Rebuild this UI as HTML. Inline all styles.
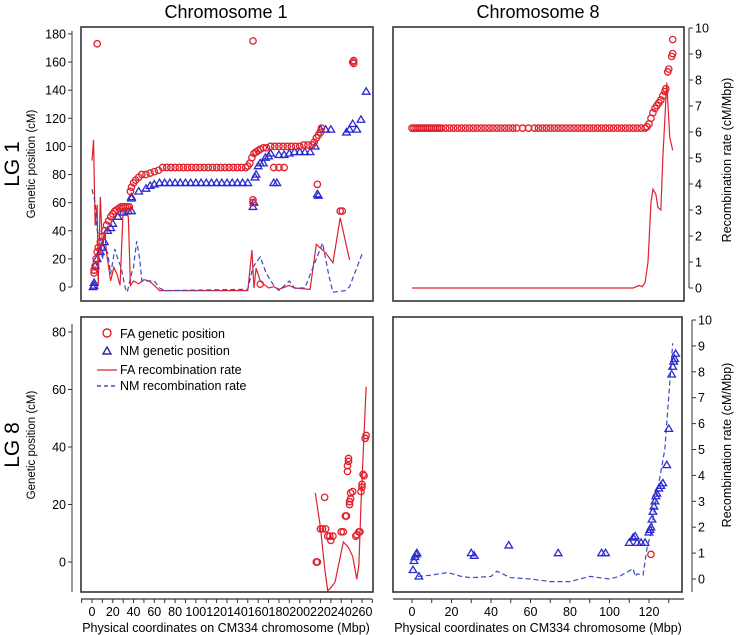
<!DOCTYPE html>
<html><head><meta charset="utf-8">
<style>
html,body{margin:0;padding:0;background:#fff;}
svg{display:block;font-family:"Liberation Sans",Arial,sans-serif;}
</style></head>
<body>
<svg id="fig" width="737" height="635" viewBox="0 0 737 635" xmlns="http://www.w3.org/2000/svg">
<defs>
<clipPath id="cTL"><rect x="81" y="27" width="292" height="274"/></clipPath>
<clipPath id="cTR"><rect x="393" y="27" width="291" height="274"/></clipPath>
<clipPath id="cBL"><rect x="81" y="317" width="292" height="275"/></clipPath>
<clipPath id="cBR"><rect x="393" y="317" width="289" height="275"/></clipPath>
</defs>
<text x="226" y="18" font-size="18" text-anchor="middle">Chromosome 1</text>
<text x="538" y="18" font-size="18" text-anchor="middle">Chromosome 8</text>
<text transform="translate(19,164) rotate(-90)" font-size="21" text-anchor="middle">LG 1</text>
<text transform="translate(19,445) rotate(-90)" font-size="21" text-anchor="middle">LG 8</text>
<text transform="translate(35,164) rotate(-90)" font-size="11.5" text-anchor="middle">Genetic position (cM)</text>
<text transform="translate(35,445) rotate(-90)" font-size="11.5" text-anchor="middle">Genetic position (cM)</text>
<text transform="translate(731,160) rotate(-90)" font-size="12.5" text-anchor="middle">Recombination rate (cM/Mbp)</text>
<text transform="translate(731,445) rotate(-90)" font-size="12.5" text-anchor="middle">Recombination rate (cM/Mbp)</text>
<text x="226" y="632" font-size="12.5" text-anchor="middle">Physical coordinates on CM334 chromosome (Mbp)</text>
<text x="538" y="632" font-size="12.5" text-anchor="middle">Physical coordinates on CM334 chromosome (Mbp)</text>
<g id="legend">
<circle cx="107" cy="333" r="4" fill="none" stroke="#e0202c" stroke-width="1.4"/>
<text x="120" y="338" font-size="12.5">FA genetic position</text>
<path d="M103,354 L111,354 L107,347 Z" fill="none" stroke="#2a2a9c" stroke-width="1.4"/>
<text x="120" y="355" font-size="12.5">NM genetic position</text>
<line x1="97" y1="370" x2="117" y2="370" stroke="#e0202c" stroke-width="1.2"/>
<text x="120" y="374" font-size="12.5">FA recombination rate</text>
<line x1="97" y1="386" x2="117" y2="386" stroke="#2a2a9c" stroke-width="1.2" stroke-dasharray="4,3"/>
<text x="120" y="390" font-size="12.5">NM recombination rate</text>
</g>
</svg>
<script>
// ---- data (x = Mbp, y = cM or cM/Mbp) ----
const chr1LeftTicks = [0,20,40,60,80,100,120,140,160,180];
const lg8LeftTicks = [0,20,40,60,80];
const rateTicks = [0,1,2,3,4,5,6,7,8,9,10];
const chr1XTicks = [0,20,40,60,80,100,120,140,160,180,200,220,240,260];
const chr8XTicks = [0,20,40,60,80,100,120];

const tlFaPos = [[2,10],[2,12],[3,15],[4,20],[5,25],[6,28],[8,32],[10,36],[12,40],[14,44],[16,47],[18,50],[20,52],[22,54],[24,55],[26,56],[28,57],[30,57],[32,57],[34,57],[36,57],[37,68],[38,71],[40,74],[42,76],[45,78],[48,80],[52,80],[56,81],[60,82],[64,83],[68,85],[72,85],[76,85],[80,85],[84,85],[88,85],[92,85],[96,85],[100,85],[104,85],[108,85],[112,85],[116,85],[120,85],[124,85],[128,85],[132,85],[136,85],[140,85],[144,85],[148,85],[150,86],[152,88],[154,92],[156,95],[158,96],[160,97],[162,98],[165,99],[168,99],[172,100],[176,100],[180,100],[184,100],[188,100],[192,100],[196,100],[200,100],[204,101],[208,101],[212,101],[214,103],[216,106],[218,108],[220,110],[221,113],[5,173],[155,175],[155,62],[155,60],[162,2],[175,85],[180,85],[185,85],[217,73],[239,54],[241,54],[251,160],[252,161],[252,159]];
const tlNmPos = [[1,0],[2,1],[2,3],[3,15],[5,20],[8,25],[10,28],[12,32],[15,40],[18,42],[20,45],[25,50],[30,53],[35,54],[38,54],[38,63],[38,64],[45,68],[52,70],[56,72],[60,73],[65,74],[70,74],[75,74],[80,74],[85,74],[90,74],[95,74],[100,74],[105,74],[110,74],[115,74],[120,74],[125,74],[130,74],[135,74],[140,74],[145,74],[150,74],[155,57],[156,60],[157,78],[158,80],[160,86],[162,88],[165,88],[167,92],[170,93],[172,95],[175,74],[178,74],[180,94],[185,94],[190,95],[195,96],[200,96],[205,96],[210,96],[215,100],[217,66],[218,65],[220,112],[225,112],[230,112],[245,110],[248,112],[251,116],[255,112],[259,119],[264,139]];
const tlFaRate = [[0,4.9],[1.5,5.7],[3,2.4],[5,3.2],[6,0.1],[8,3.5],[10,1.6],[12,2.2],[14,1.35],[18,0.27],[21,0.8],[24,0.54],[27,0.1],[30,3.0],[33,3.1],[35,2.7],[37,0.1],[40,0.27],[45,0.16],[50,0.32],[55,0.27],[60,0.1],[65,-0.1],[100,-0.1],[150,-0.1],[154,1.46],[156,0.0],[158,0.76],[162,0.27],[165,0.16],[170,0.0],[175,0.05],[180,-0.05],[190,0.1],[195,0.0],[210,-0.05],[216,1.68],[225,1.35],[232,0.97],[239,2.7],[248,1.08]];
const tlNmRate = [[0,3.8],[3,3.3],[5,2.2],[8,1.9],[10,1.1],[12,1.6],[15,1.35],[18,0.54],[22,1.5],[25,1.1],[28,0.8],[32,0.0],[34,-0.16],[38,0.54],[40,0.8],[43,1.8],[46,1.1],[48,0.27],[55,0.27],[60,0.27],[65,0.0],[70,-0.1],[150,-0.05],[155,0.8],[162,1.2],[168,0.54],[175,0.1],[180,-0.1],[190,0.27],[195,0.0],[205,0.0],[222,1.73],[228,0.5],[232,-0.16],[244,-0.1],[248,0.05],[260,1.3]];

const trFaPos = [[0,113],[1,113],[2,113],[3,113],[4,113],[5,113],[6,113],[7,113],[8,113],[9,113],[10,113],[11,113],[12,113],[13,113],[14,113],[15,113],[17,113],[19,113],[21,113],[23,113],[25,113],[27,113],[29,113],[31,113],[33,113],[35,113],[37,113],[39,113],[41,113],[43,113],[45,113],[47,113],[49,113],[51,113],[53,113],[56,113],[59,113],[62,113],[64,113],[66,113],[68,113],[70,113],[72,113],[74,113],[76,113],[78,113],[80,113],[82,113],[84,113],[86,113],[88,113],[90,113],[92,113],[94,113],[96,113],[98,113],[100,113],[102,113],[104,113],[106,113],[108,113],[110,113],[112,113],[114,113],[116,113],[118,113],[119,114],[120,116],[121,120],[122,124],[123,127],[124,129],[125,131],[126,133],[127,136],[128,139],[128.5,141],[129.5,153],[130,155],[131.5,164],[132,166],[132,176]];
const trFaRate = [[0,0],[112,0],[115,0.1],[116.5,0.05],[118,0.2],[119.5,1.0],[121,3.3],[122,3.8],[123.5,3.6],[124.5,3.1],[126,3.0],[127,5.0],[129,7.9],[130.5,5.8],[132,5.3]];

const blFaPos = [[216,0],[217,0],[224,22.5],[220,11.5],[222,11.5],[225,11.5],[227,9],[229,9],[230,7.5],[232,9],[240,10.5],[242,10.5],[244,16],[245,16],[246,31.5],[246,33.5],[247,35],[247,36],[248,20],[248,21],[249,22],[249,24],[251,24.5],[254,9],[255,9.5],[257,10.5],[258,10.5],[259,24.5],[260,26],[260,27],[261,30.5],[262,30],[263,43],[264,44]];
const blFaRate = [[215,24],[220,12],[224,-2],[227,-10],[230,-9],[234,-7],[238,0],[242,7],[247,5],[251,2],[255,-6],[257,-1],[259,20],[262,45],[264,61]];

const brNmPos = [[0.5,0.35],[1,0.7],[1.5,0.85],[2,0.95],[2.5,1.0],[3.5,0.1],[30,1.0],[31.5,0.9],[49,1.3],[74,1.0],[96,1.0],[98,1.0],[110,1.4],[112,1.6],[113,1.65],[114,1.4],[116,1.4],[118,1.4],[120,1.8],[120.5,1.9],[121,2.0],[121.5,2.3],[122,2.6],[122.5,2.8],[123,3.0],[123.5,3.2],[124,3.3],[125,3.5],[126,3.6],[127,3.7],[129,4.4],[130,5.8],[131.5,7.9],[132,8.2],[132.5,8.4],[133,8.5],[133.5,8.7]];
const brFaPos = [[121,0.95]];
const brNmRate = [[3,0.1],[10,0.15],[18,0.25],[25,0.1],[30,0.05],[40,0.1],[43,0.3],[50,0.05],[60,0],[70,-0.1],[80,-0.1],[90,0.1],[95,0.05],[100,0],[105,0.1],[112,0.4],[113,0.1],[114,0.2],[117,0.15],[119,1.2],[121,1.8],[124,3.3],[128,5.0],[132,9.1]];

// ---- scales ----
const NS = "http://www.w3.org/2000/svg";
const svg = document.getElementById('fig');
const RED = "#e0202c", BLUE = "#2a2ad0", DBLUE = "#3a4ac8";
function lin(x0, k){ return v => x0 + v*k; }
function linY(y0, k){ return v => y0 - v*k; }
const xChr1 = lin(92, 1.0385), xChr8 = lin(412, 1.975);
const yGenLG1 = linY(287, 1.406), yRateLG1 = linY(288, 26);
const yGenLG8 = linY(562, 2.875), yRateLG8 = linY(579, 25.9);

function mk(tag, attrs, parent){
  const e = document.createElementNS(NS, tag);
  for (const k in attrs) e.setAttribute(k, attrs[k]);
  (parent || svg).appendChild(e);
  return e;
}
function panelGroup(clip, name){
  const g = mk('g', {'clip-path':'url(#'+clip+')'});
  
  
  return g;
}
function drawCircles(g, data, xs, ys, name){
  data.forEach(d => {
    const c = mk('circle', {cx:xs(d[0]), cy:ys(d[1]), r:3.2, fill:'none', stroke:RED, 'stroke-width':1.3}, g);
    
    
  });
}
function drawTris(g, data, xs, ys, name){
  data.forEach(d => {
    const x = xs(d[0]), y = ys(d[1]);
    const t = mk('path', {d:`M${x-3.8},${y+2.6} L${x+3.8},${y+2.6} L${x},${y-3.8} Z`, fill:'none', stroke:BLUE, 'stroke-width':1.3}, g);
    
    
  });
}
function drawLine(g, data, xs, ys, color, dashed, name){
  const p = mk('polyline', {points:data.map(d => xs(d[0])+','+ys(d[1])).join(' '), fill:'none', stroke:color, 'stroke-width':1.2, 'stroke-dasharray': dashed ? '5,3' : 'none'}, g);
  
  
}
function box(x, y, w, h, name){
  const r = mk('rect', {x:x, y:y, width:w, height:h, fill:'none', stroke:'#333', 'stroke-width':1.6});
  
  
}
function leftAxis(ticks, ys, x, top, bottom, name){
  const l = mk('line', {x1:x, y1:top, x2:x, y2:bottom, stroke:'#333', 'stroke-width':1});
  
  
  ticks.forEach(t => {
    mk('line', {x1:x-4, y1:ys(t), x2:x, y2:ys(t), stroke:'#333', 'stroke-width':1});
    const tx = mk('text', {x:x-6, y:ys(t)+4.5, 'font-size':12.5, 'text-anchor':'end'});
    tx.textContent = t;
    
    
  });
}
function rightAxis(ticks, ys, x, top, bottom, name){
  const l = mk('line', {x1:x, y1:top, x2:x, y2:bottom, stroke:'#333', 'stroke-width':1});
  
  
  ticks.forEach(t => {
    mk('line', {x1:x, y1:ys(t), x2:x+4, y2:ys(t), stroke:'#333', 'stroke-width':1});
    const tx = mk('text', {x:x+6, y:ys(t)+4.5, 'font-size':12.5, 'text-anchor':'start'});
    tx.textContent = t;
    
    
  });
}
function bottomAxis(ticks, xs, y, left, right, step, name){
  const l = mk('line', {x1:left, y1:y, x2:right, y2:y, stroke:'#333', 'stroke-width':1.2});
  
  
  const t0 = ticks[0], t1 = ticks[ticks.length-1];
  for (let v = t0 - step; v <= t1 + step; v += step){
    const px = xs(v);
    if (px < left-0.5 || px > right+0.5) continue;
    mk('line', {x1:px, y1:y, x2:px, y2:y+4, stroke:'#333', 'stroke-width':1});
  }
  ticks.forEach(t => {
    const tx = mk('text', {x:xs(t), y:y+17, 'font-size':12.5, 'text-anchor':'middle'});
    tx.textContent = t;
    
    
  });
}

// ---- top-left: LG1 x Chr1 ----
const gTL = panelGroup('cTL', 'panel-lg1-chr1');
drawLine(gTL, tlFaRate, xChr1, yRateLG1, RED, false, 'fa-rate-line');
drawLine(gTL, tlNmRate, xChr1, yRateLG1, DBLUE, true, 'nm-rate-line');
drawTris(gTL, tlNmPos, xChr1, yGenLG1, 'nm-position-point');
drawCircles(gTL, tlFaPos, xChr1, yGenLG1, 'fa-position-point');
box(81, 27, 292, 274, 'panel-lg1-chr1-frame');
leftAxis(chr1LeftTicks, yGenLG1, 72, 31, 287, 'y-axis-lg1');

// ---- top-right: LG1 x Chr8 ----
const gTR = panelGroup('cTR', 'panel-lg1-chr8');
drawLine(gTR, trFaRate, xChr8, yRateLG1, RED, false, 'fa-rate-line');
drawCircles(gTR, trFaPos, xChr8, yGenLG1, 'fa-position-point');
box(393, 27, 291, 274, 'panel-lg1-chr8-frame');
rightAxis(rateTicks, yRateLG1, 689, 28, 288, 'rate-axis-lg1');

// ---- bottom-left: LG8 x Chr1 ----
const gBL = panelGroup('cBL', 'panel-lg8-chr1');
drawLine(gBL, blFaRate, xChr1, yGenLG8, RED, false, 'fa-rate-line');
drawCircles(gBL, blFaPos, xChr1, yGenLG8, 'fa-position-point');
box(81, 317, 292, 275, 'panel-lg8-chr1-frame');
leftAxis(lg8LeftTicks, yGenLG8, 72, 324, 592, 'y-axis-lg8');
bottomAxis(chr1XTicks, xChr1, 599, 81, 372, 10, 'x-axis-chr1');

// ---- bottom-right: LG8 x Chr8 ----
const gBR = panelGroup('cBR', 'panel-lg8-chr8');
drawLine(gBR, brNmRate, xChr8, yRateLG8, DBLUE, true, 'nm-rate-line');
drawTris(gBR, brNmPos, xChr8, yRateLG8, 'nm-position-point');
drawCircles(gBR, brFaPos, xChr8, yRateLG8, 'fa-position-point');
box(393, 317, 289, 275, 'panel-lg8-chr8-frame');
rightAxis(rateTicks, yRateLG8, 692, 320, 592, 'rate-axis-lg8');
bottomAxis(chr8XTicks, xChr8, 599, 393, 684, 10, 'x-axis-chr8');
</script>
</body></html>
